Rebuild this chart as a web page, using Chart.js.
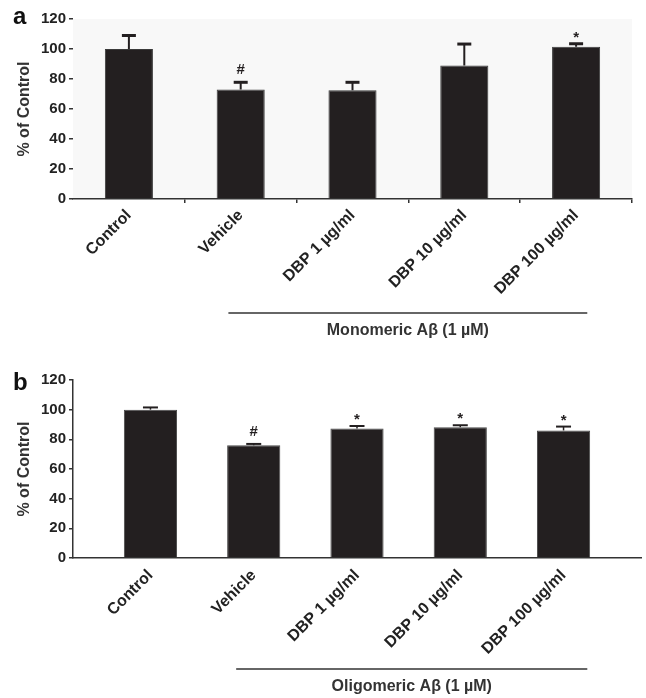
<!DOCTYPE html>
<html>
<head>
<meta charset="utf-8">
<script src="https://cdn.jsdelivr.net/npm/chart.js@4.4.1/dist/chart.umd.min.js"></script>
<style>
  body { margin: 0; background: #fff; }
  .painel { position: absolute; left: 0; width: 646px; }
  #painelA { top: 0; height: 345px; }
  #painelB { top: 345px; height: 353px; }
</style>
</head>
<body>
<div class="painel" id="painelA"><canvas id="graficoA"></canvas></div>
<div class="painel" id="painelB"><canvas id="graficoB"></canvas></div>
<script>
// Dados
const categorias = ['Control', 'Vehicle', 'DBP 1 µg/ml', 'DBP 10 µg/ml', 'DBP 100 µg/ml'];
const yTicks = [0, 20, 40, 60, 80, 100, 120];

const valoresA = [100, 73, 72.5, 89, 101.5];
const errosA = [9, 4.8, 5.3, 14.3, 2];
const marcasA = ['', '#', '', '', '*'];

const valoresB = [100, 76, 87.3, 88.2, 86];
const errosB = [1.5, 0.9, 1.7, 1.3, 2.6];
const marcasB = ['', '#', '*', '*', '*'];

const rotuloA = 'Monomeric Aβ (1 µM)';
const rotuloB = 'Oligomeric Aβ (1 µM)';

const familia = "'Liberation Sans', Arial, Helvetica, sans-serif";
const fonteTick = { family: familia, size: 15, weight: 'bold' };
const fonteX = { family: familia, size: 16, weight: 'bold' };
const fonteTitulo = { family: familia, size: 16, weight: 'bold' };
const corBarra = '#231f20';
const corEixo = '#333';

// Barras de erro, marcas (#, *), colchete do grupo e letra do painel
const extras = {
  id: 'extras',
  beforeDraw(chart, args, o) {
    if (!o.fundo) return;
    const a = chart.chartArea;
    chart.ctx.save();
    chart.ctx.fillStyle = o.fundo;
    chart.ctx.fillRect(a.left, a.top, a.right - a.left, a.bottom - a.top);
    chart.ctx.restore();
  },
  afterDatasetsDraw(chart, args, o) {
    const { ctx, scales: { y } } = chart;
    const meta = chart.getDatasetMeta(0);
    ctx.save();
    ctx.strokeStyle = corBarra;
    ctx.fillStyle = corBarra;
    meta.data.forEach((bar, i) => {
      const topo = y.getPixelForValue(o.valores[i]);
      const fim = y.getPixelForValue(o.valores[i] + o.erros[i]);
      ctx.lineWidth = o.haste;
      ctx.beginPath();
      ctx.moveTo(bar.x, topo);
      ctx.lineTo(bar.x, fim);
      ctx.stroke();
      ctx.lineWidth = o.tampa;
      ctx.beginPath();
      ctx.moveTo(bar.x - o.largTampa / 2, fim);
      ctx.lineTo(bar.x + o.largTampa / 2, fim);
      ctx.stroke();
      const m = o.marcas[i];
      if (m) {
        ctx.font = 'bold 15px ' + familia;
        ctx.textAlign = 'center';
        ctx.textBaseline = 'middle';
        ctx.fillText(m, bar.x, fim - (m === '*' ? 6 : 12));
      }
    });
    ctx.restore();
  },
  afterDraw(chart, args, o) {
    const { ctx, scales: { x }, chartArea } = chart;
    ctx.save();
    const x0 = x.getPixelForValue(o.colchete[0]);
    const x1 = x.getPixelForValue(o.colchete[1]);
    const yl = chartArea.bottom + o.colcheteY;
    ctx.strokeStyle = corEixo;
    ctx.lineWidth = 1.5;
    ctx.beginPath();
    ctx.moveTo(x0, yl);
    ctx.lineTo(x1, yl);
    ctx.stroke();
    ctx.fillStyle = corEixo;
    ctx.font = 'bold 16px ' + familia;
    ctx.textAlign = 'center';
    ctx.textBaseline = 'middle';
    ctx.fillText(o.rotulo, (x0 + x1) / 2, yl + 18);
    ctx.fillStyle = '#111';
    ctx.font = 'bold 24px ' + familia;
    ctx.textAlign = 'left';
    ctx.textBaseline = 'alphabetic';
    ctx.fillText(o.letra, 13, o.letraY);
    ctx.restore();
  }
};

function eixoY(largura) {
  return {
    min: 0, max: 120,
    afterBuildTicks: s => { s.ticks = yTicks.map(v => ({ value: v })); },
    grid: { drawOnChartArea: false, drawTicks: true, tickLength: 4, color: corEixo, lineWidth: 1.5 },
    ticks: { padding: 3, color: '#222', font: fonteTick },
    title: { display: true, text: '% of Control', color: '#333', font: fonteTitulo, padding: { top: 15, bottom: 0 } },
    afterFit: s => { s.width = largura; }
  };
}

// --- Painel a (monomérico) ---
new Chart(document.getElementById('graficoA'), {
  type: 'bar',
  data: {
    labels: categorias,
    datasets: [{
      data: valoresA,
      backgroundColor: corBarra,
      borderColor: '#3a3a3a',
      borderWidth: 1,
      barPercentage: 0.43,
      categoryPercentage: 1
    }]
  },
  plugins: [extras],
  options: {
    responsive: true,
    maintainAspectRatio: false,
    animation: false,
    layout: { padding: { top: 19, right: 14, left: 0, bottom: 0 } },
    plugins: {
      legend: { display: false },
      tooltip: { enabled: false },
      extras: {
        fundo: '#f8f8f8',
        valores: valoresA, erros: errosA, marcas: marcasA,
        haste: 2, tampa: 3, largTampa: 14,
        colchete: [0.89, 4.1], colcheteY: 114, rotulo: rotuloA,
        letra: 'a', letraY: 24
      }
    },
    scales: {
      x: {
        grid: {
          drawOnChartArea: false, drawTicks: true, tickLength: 4, offset: true, lineWidth: 1.5,
          color: c => (c.index === 0 || c.index === categorias.length) ? 'rgba(0,0,0,0)' : corEixo
        },
        border: { display: true, color: corEixo, width: 1.5 },
        ticks: { autoSkip: false, minRotation: 45, maxRotation: 45, padding: 3, color: '#222', font: fonteX },
        afterFit: s => { s.height = 146; }
      },
      y: Object.assign(eixoY(73), { border: { display: false } })
    }
  }
});

// --- Painel b (oligomérico) ---
new Chart(document.getElementById('graficoB'), {
  type: 'bar',
  data: {
    datasets: [{
      data: valoresB.map((v, i) => ({ x: i, y: v })),
      backgroundColor: corBarra,
      borderColor: '#4a4a4a',
      borderWidth: 1,
      barPercentage: 0.515,
      categoryPercentage: 1
    }]
  },
  plugins: [extras],
  options: {
    responsive: true,
    maintainAspectRatio: false,
    animation: false,
    layout: { padding: { top: 35, right: 5, left: 0, bottom: 0 } },
    plugins: {
      legend: { display: false },
      tooltip: { enabled: false },
      extras: {
        valores: valoresB, erros: errosB, marcas: marcasB,
        haste: 1.5, tampa: 2, largTampa: 15,
        colchete: [0.83, 4.23], colcheteY: 111, rotulo: rotuloB,
        letra: 'b', letraY: 45
      }
    },
    scales: {
      x: {
        type: 'linear',
        min: -0.75, max: 4.75,
        bounds: 'data',
        offset: false,
        afterBuildTicks: s => { s.ticks = categorias.map((c, i) => ({ value: i })); },
        grid: { drawOnChartArea: false, drawTicks: false, offset: false },
        border: { display: true, color: corEixo, width: 1.5 },
        ticks: { autoSkip: false, minRotation: 45, maxRotation: 45, padding: 8, color: '#222', font: fonteX,
                 callback: (v, i) => categorias[i] },
        afterFit: s => { s.height = 140; }
      },
      y: Object.assign(eixoY(73), { border: { display: true, color: corEixo, width: 1.5 } })
    }
  }
});
</script>
</body>
</html>
